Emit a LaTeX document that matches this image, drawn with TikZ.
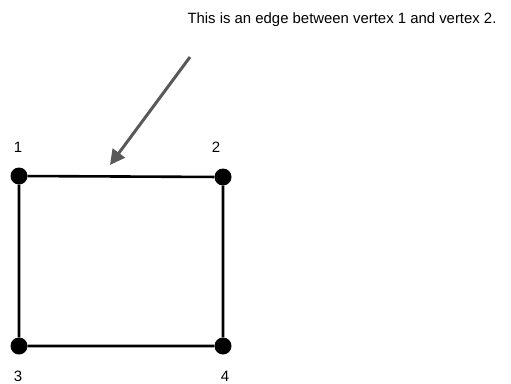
\documentclass[tikz,border=0pt]{standalone}
\usepackage{fontspec}
\setmainfont{Liberation Sans}
\usetikzlibrary{arrows.meta}
\begin{document}
\begin{tikzpicture}[x=1pt, y=-1pt,
    vertex/.style={circle, fill=black, inner sep=0pt, minimum size=17pt},
    num/.style={font=\fontsize{15}{17}\selectfont},
    edge/.style={line width=2.6pt},
    pointer/.style={draw=black!65, line width=3pt, -{Triangle[length=15pt, width=15pt]}}]
  \useasboundingbox (0,0) rectangle (511,383);
  % Vertices of the square
  \node[vertex] (v1) at (19,176)  {};
  \node[vertex] (v2) at (223,177) {};
  \node[vertex] (v3) at (19,346)  {};
  \node[vertex] (v4) at (223,346) {};
  % Vertex numbers
  \node[num] (n1) at (18,147)  {1};
  \node[num] (n2) at (216,147) {2};
  \node[num] (n3) at (18,376)  {3};
  \node[num] (n4) at (225,376) {4};
  % Edges
  \draw[edge] (v1)--(v2)--(v4)--(v3)--(v1);
  % Note and pointer
  \node[font=\fontsize{14.9}{17}\selectfont] (note) at (342,20)
    {This is an edge between vertex 1 and vertex 2.};
  \coordinate (tip) at (110,165);
  \coordinate (tail) at (190,57);
  \draw[pointer] (tail)--(tip);
\end{tikzpicture}
\end{document}
